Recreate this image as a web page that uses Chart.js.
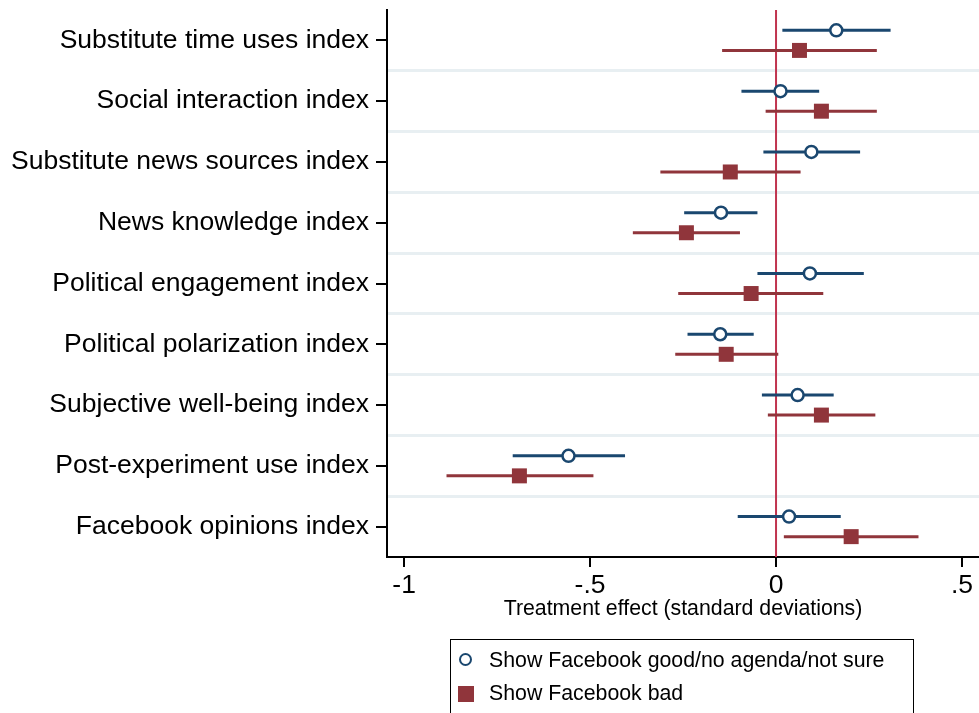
<!DOCTYPE html>
<html>
<head>
<meta charset="utf-8">
<script src="https://cdn.jsdelivr.net/npm/chart.js@4/dist/chart.umd.min.js"></script>
<style>
    html, body { margin: 0; padding: 0; background: #fff; }
    #wrap { position: relative; width: 979px; height: 713px; overflow: hidden; }
    #legend {
        position: absolute; left: 450px; top: 639px; width: 464px; height: 90px;
        border: 1px solid #000; box-sizing: border-box;
        font-family: Arial, "Liberation Sans", sans-serif; font-size: 21.3px; color: #000;
    }
    .item { position: absolute; left: 38px; white-space: nowrap; }
    .mk { position: absolute; box-sizing: border-box; }
</style>
</head>
<body>
<div id="wrap">
    <canvas id="grafico" width="979" height="713"></canvas>
    <div id="legend">
        <div class="mk" style="left:8px;top:13px;width:13px;height:13px;border:2.5px solid #1A476F;border-radius:50%;background:#fff"></div>
        <div class="item" style="top:8px">Show Facebook good/no agenda/not sure</div>
        <div class="mk" style="left:7px;top:46px;width:16px;height:16px;background:#90353B"></div>
        <div class="item" style="top:41px">Show Facebook bad</div>
    </div>
</div>
<script>
// Datos
const categorias = [
    'Substitute time uses index',
    'Social interaction index',
    'Substitute news sources index',
    'News knowledge index',
    'Political engagement index',
    'Political polarization index',
    'Subjective well-being index',
    'Post-experiment use index',
    'Facebook opinions index'
];

// Show Facebook good/no agenda/not sure
const buenoEst  = [0.162, 0.012, 0.095, -0.148, 0.091, -0.150, 0.058, -0.558, 0.035];
const buenoLow  = [0.017, -0.093, -0.034, -0.247, -0.050, -0.238, -0.038, -0.708, -0.103];
const buenoHigh = [0.308, 0.116, 0.226, -0.050, 0.236, -0.060, 0.155, -0.406, 0.174];

// Show Facebook bad
const maloEst  = [0.063, 0.122, -0.123, -0.241, -0.067, -0.134, 0.122, -0.690, 0.202];
const maloLow  = [-0.145, -0.028, -0.311, -0.385, -0.263, -0.271, -0.022, -0.886, 0.021];
const maloHigh = [0.271, 0.271, 0.066, -0.097, 0.127, 0.006, 0.267, -0.491, 0.383];

const xTicks = [-1, -0.5, 0, 0.5];
const xTickLabels = ['-1', '-.5', '0', '.5'];

const AZUL = '#1A476F';
const GRANATE = '#90353B';
const fuente = 'Arial, "Liberation Sans", sans-serif';
const desp = 0.165;

// Segmentos de intervalos de confianza
function segmentos(low, high, shift, color) {
    return low.map(function(lo, i) {
        return {
            type: 'scatter',
            showLine: true,
            data: [{ x: lo, y: i + 1 + shift }, { x: high[i], y: i + 1 + shift }],
            borderColor: color,
            borderWidth: 3,
            pointRadius: 0,
            order: 2
        };
    });
}

// Quitar el relleno automático de las escalas
function sinRelleno(s) {
    s.paddingTop = 0;
    s.paddingBottom = 0;
    s.paddingLeft = 0;
    s.paddingRight = 0;
}

const datasets = [
    {
        data: buenoEst.map(function(v, i) { return { x: v, y: i + 1 - desp }; }),
        pointStyle: 'circle',
        pointRadius: 6,
        pointBorderWidth: 2.5,
        pointBorderColor: AZUL,
        pointBackgroundColor: '#fff',
        showLine: false,
        order: 0
    },
    {
        data: maloEst.map(function(v, i) { return { x: v, y: i + 1 + desp }; }),
        pointStyle: 'rect',
        pointRadius: 10.6,
        pointBorderWidth: 0,
        pointBackgroundColor: GRANATE,
        showLine: false,
        order: 0
    },
    {
        // línea vertical en cero
        showLine: true,
        data: [{ x: 0, y: 0.5 }, { x: 0, y: 9.5 }],
        borderColor: '#C0344F',
        borderWidth: 2,
        pointRadius: 0,
        order: 3
    }
].concat(segmentos(buenoLow, buenoHigh, -desp, AZUL), segmentos(maloLow, maloHigh, desp, GRANATE));

new Chart(document.getElementById('grafico'), {
    type: 'scatter',
    data: { datasets: datasets },
    options: {
        responsive: false,
        animation: false,
        events: [],
        layout: { autoPadding: false, padding: { top: 10, right: 0, bottom: 0, left: 0 } },
        plugins: { legend: { display: false }, tooltip: { enabled: false } },
        scales: {
            x: {
                type: 'linear',
                min: -1.046,
                max: 0.5457,
                afterBuildTicks: function(s) { s.ticks = xTicks.map(function(v) { return { value: v }; }); },
                afterFit: function(s) { s.height = 156; sinRelleno(s); },
                ticks: {
                    color: '#000',
                    font: { family: fuente, size: 26.5 },
                    padding: 3,
                    maxRotation: 0,
                    callback: function(v) { return xTickLabels[xTicks.indexOf(v)]; }
                },
                grid: { drawOnChartArea: false, drawTicks: true, tickLength: 10, color: '#000', lineWidth: 2 },
                border: { display: true, color: '#000', width: 2 },
                title: {
                    display: true,
                    text: 'Treatment effect (standard deviations)',
                    color: '#000',
                    font: { family: fuente, size: 21.3 },
                    padding: { top: 0, bottom: 91 }
                }
            },
            y: {
                type: 'linear',
                reverse: true,
                min: 0.5,
                max: 9.5,
                afterBuildTicks: function(s) { s.ticks = categorias.map(function(c, i) { return { value: i + 1 }; }); },
                afterFit: function(s) { s.width = 387; sinRelleno(s); },
                ticks: {
                    color: '#000',
                    font: { family: fuente, size: 26.5 },
                    padding: 7,
                    callback: function(v) { return categorias[v - 1]; }
                },
                grid: { drawOnChartArea: false, drawTicks: true, tickLength: 11, color: '#000', lineWidth: 2 },
                border: { display: true, color: '#000', width: 2 }
            },
            ySep: {
                type: 'linear',
                position: 'left',
                reverse: true,
                min: 0.5,
                max: 9.5,
                afterBuildTicks: function(s) {
                    s.ticks = categorias.slice(1).map(function(c, i) { return { value: i + 1.5 }; });
                },
                afterFit: function(s) { s.width = 0; sinRelleno(s); },
                ticks: { display: false },
                grid: { drawOnChartArea: true, drawTicks: false, color: '#E8EFF2', lineWidth: 3 },
                border: { display: false }
            }
        }
    }
});
</script>
</body>
</html>
